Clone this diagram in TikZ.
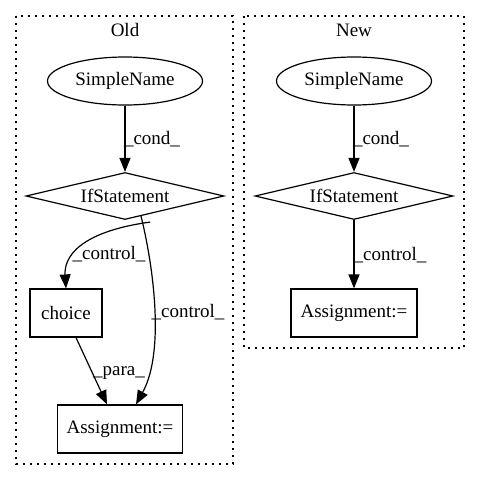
\documentclass[tikz,border=0pt]{standalone}
\usepackage{fontspec}
\setmainfont{Liberation Serif}
\usetikzlibrary{shapes.geometric,arrows.meta}
\begin{document}
\begin{tikzpicture}[x=1pt,y=-1pt,
  every node/.style={font=\fontsize{19}{21}\selectfont},
  cluster/.style={draw,line width=1.2pt,dash pattern=on 1.6pt off 5.4pt},
  ell/.style={draw,ellipse,line width=1.2pt,minimum width=155pt,minimum height=48pt,inner sep=0pt},
  dia/.style={draw,diamond,aspect=4.2,line width=1.2pt,minimum width=198pt,minimum height=47pt,inner sep=0pt},
  box/.style={draw,rectangle,line width=1.2pt,minimum height=48pt,inner sep=0pt},
  edge/.style={line width=1.2pt,-{Triangle[length=14pt,width=11pt]}},
  lbl/.style={inner sep=0pt}]
\useasboundingbox (0,0) rectangle (480,480);
% clusters
\draw[cluster] (16,16) rectangle (233,464);
\draw[cluster] (244,16) rectangle (464,348);
\node (told) at (125,30) {Old};
\node (tnew) at (354,30) {New};
% Old
\node[ell] (sn1) at (125,81) {SimpleName};
\node[dia] (if1) at (125,196) {IfStatement};
\node[box,minimum width=72pt] (ch) at (66,313) {choice};
\node[box,minimum width=125pt] (as1) at (120,429) {Assignment:=};
% New
\node[ell] (sn2) at (354,81) {SimpleName};
\node[dia] (if2) at (354,196) {IfStatement};
\node[box,minimum width=126pt] (as2) at (354,313) {Assignment:=};
% labels
\node[lbl] (l1) at (152,139) {\_cond\_};
\node[lbl] (l2) at (109,254) {\_control\_};
\node[lbl] (l3) at (188,312) {\_control\_};
\node[lbl] (l4) at (119,373) {\_para\_};
\node[lbl] (l5) at (381,139) {\_cond\_};
\node[lbl] (l6) at (390,255) {\_control\_};
% edges
\draw[edge] (if1.south west) ++(75,14) coordinate (s1) .. controls (78,232) and (64,258) .. (ch.north);
\draw[edge] (sn1) -- (if1);
\draw[edge] (if1.south) ++(16,-4) coordinate (s2) .. controls (152,260) and (166,350) .. (as1.north -| 136,0);
\draw[edge] (ch.south -| 76,0) -- (as1.north -| 107,0);
\draw[edge] (sn2) -- (if2);
\draw[edge] (if2) -- (as2);
\end{tikzpicture}
\end{document}
